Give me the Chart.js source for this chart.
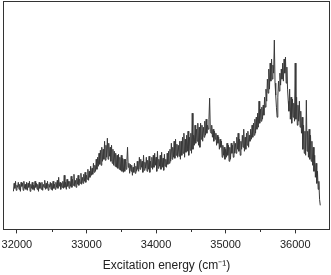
<!DOCTYPE html>
<html lang="en">
<head>
  <meta charset="UTF-8" />
  <title>Excitation spectrum</title>
  <style>
    html, body { margin: 0; padding: 0; background: #fff; }
    #wrap { width: 331px; height: 275px; }
  </style>
</head>
<body>
  <div id="wrap"><canvas id="graph" width="331" height="275"></canvas></div>
  <script src="https://cdn.jsdelivr.net/npm/chart.js@4/dist/chart.umd.min.js"></script>
  <script>
// spectrum sampled every 10 cm-1 starting at 31950
const energyStart = 31950
const energyStep = 10

// intensity (arb. units); one row = 200 cm-1
const intensity = [
  38, 46, 41, 48, 39, 44, 42, 47, 40, 45, 38, 47, 43, 46, 39, 48, 41, 45, 40, 47,
  39, 46, 42, 48, 38, 45, 41, 47, 40, 44, 39, 48, 42, 46, 40, 45, 38, 47, 41, 46,
  40, 47, 39, 45, 42, 49, 40, 46, 41, 48, 39, 45, 42, 47, 40, 46, 39, 48, 41, 45,
  40, 47, 42, 49, 41, 52, 43, 47, 40, 46, 42, 48, 41, 54, 42, 47, 40, 50, 43, 48,
  41, 48, 43, 53, 42, 50, 44, 55, 43, 49, 42, 51, 45, 54, 44, 50, 46, 56, 45, 52,
  46, 55, 48, 57, 47, 54, 50, 60, 49, 58, 52, 63, 54, 61, 55, 66, 57, 64, 58, 70,
  60, 72, 63, 76, 65, 79, 64, 82, 68, 80, 70, 88, 69, 84, 72, 91, 70, 86, 73, 82,
  68, 84, 66, 80, 64, 78, 63, 76, 62, 74, 61, 75, 60, 72, 59, 74, 58, 71, 57, 70,
  58, 70, 60, 68, 82, 62, 66, 56, 65, 58, 64, 54, 62, 57, 66, 56, 63, 58, 68, 60,
  58, 72, 60, 70, 62, 68, 57, 74, 59, 67, 61, 72, 58, 69, 60, 73, 57, 68, 62, 72,
  60, 74, 62, 76, 64, 72, 58, 78, 61, 70, 63, 74, 60, 77, 62, 71, 59, 75, 63, 70,
  62, 76, 65, 78, 66, 80, 68, 86, 70, 82, 72, 88, 71, 90, 74, 85, 72, 84, 73, 88,
  70, 88, 74, 92, 76, 96, 72, 90, 77, 94, 78, 98, 74, 92, 79, 96, 76, 116, 80, 94,
  84, 104, 86, 100, 88, 106, 84, 102, 82, 106, 90, 104, 88, 102, 92, 108, 94, 110, 96, 104,
  100, 110, 131, 98, 96, 104, 92, 100, 88, 98, 90, 96, 84, 94, 86, 92, 80, 90, 82, 88,
  72, 84, 74, 82, 70, 80, 72, 86, 74, 84, 68, 82, 70, 86, 76, 84, 72, 88, 76, 86,
  76, 92, 80, 96, 78, 90, 74, 88, 80, 94, 82, 100, 78, 92, 80, 96, 84, 98, 82, 94,
  88, 100, 90, 104, 92, 106, 94, 110, 96, 112, 100, 116, 102, 128, 106, 120, 108, 122, 110, 124,
  114, 132, 122, 140, 128, 150, 136, 160, 140, 166, 148, 170, 150, 164, 156, 189, 146, 134, 122, 112,
  132, 148, 138, 156, 144, 160, 150, 166, 148, 170, 156, 172, 146, 162, 140, 128, 118, 140, 110, 132,
  106, 130, 112, 126, 108, 166, 110, 132, 104, 124, 108, 128, 102, 118, 96, 112, 80, 104, 76, 98,
  74, 129, 78, 98, 72, 100, 70, 94, 68, 88, 64, 82, 58, 74, 52, 66, 46, 58, 40, 48,
  30, 24
]

const xMin = 31800
const xMax = 36500
const majorTicks = [32000, 33000, 34000, 35000, 36000]
const minorTicks = [32500, 33500, 34500, 35500, 36500]

const points = intensity.map((v, i) => ({ x: energyStart + i * energyStep, y: v }))

const frameColor = '#333'

// box around plot area + short minor ticks
const framePlugin = {
  id: 'frame',
  afterDraw(chart) {
    const { ctx, chartArea: a, scales } = chart
    ctx.save()
    ctx.strokeStyle = frameColor
    ctx.lineWidth = 1
    ctx.strokeRect(Math.round(a.left) + 0.5, Math.round(a.top) + 0.5,
      Math.round(a.right - a.left) - 1, Math.round(a.bottom - a.top))
    ctx.beginPath()
    minorTicks.forEach(t => {
      const px = Math.round(scales.x.getPixelForValue(t)) + 0.5
      if (px < a.right - 1) {
        ctx.moveTo(px, Math.round(a.bottom) + 0.5)
        ctx.lineTo(px, Math.round(a.bottom) + 3)
      }
    })
    ctx.stroke()
    ctx.restore()
  }
}

new Chart(document.getElementById('graph'), {
  type: 'line',
  data: {
    datasets: [{
      data: points,
      borderColor: '#383838',
      borderWidth: 1,
      pointRadius: 0,
      tension: 0
    }]
  },
  options: {
    responsive: false,
    animation: false,
    layout: { padding: { left: 3, right: 1, top: 1, bottom: 0 } },
    plugins: { legend: { display: false }, tooltip: { enabled: false } },
    scales: {
      x: {
        type: 'linear',
        min: xMin,
        max: xMax,
        afterBuildTicks(scale) {
          scale.ticks = majorTicks.map(v => ({ value: v }))
        },
        // labels fit inside the frame, no extra side padding needed
        afterFit(scale) {
          scale.paddingLeft = 0
          scale.paddingRight = 0
        },
        border: { display: false },
        grid: {
          drawOnChartArea: false,
          drawTicks: true,
          tickLength: 4,
          tickColor: frameColor
        },
        ticks: {
          color: '#222',
          padding: 5,
          maxRotation: 0,
          font: { family: 'Liberation Sans, Arial, sans-serif', size: 11 },
          callback: v => String(v)
        },
        title: {
          display: true,
          text: 'Excitation energy (cm\u207B\u00B9)',
          color: '#222',
          padding: { top: 2, bottom: 2 },
          font: { family: 'Liberation Sans, Arial, sans-serif', size: 12 }
        }
      },
      y: {
        min: 0,
        max: 228,
        border: { display: false },
        grid: { display: false, drawTicks: false },
        ticks: { display: false }
      }
    }
  },
  plugins: [framePlugin]
})
  </script>
</body>
</html>
